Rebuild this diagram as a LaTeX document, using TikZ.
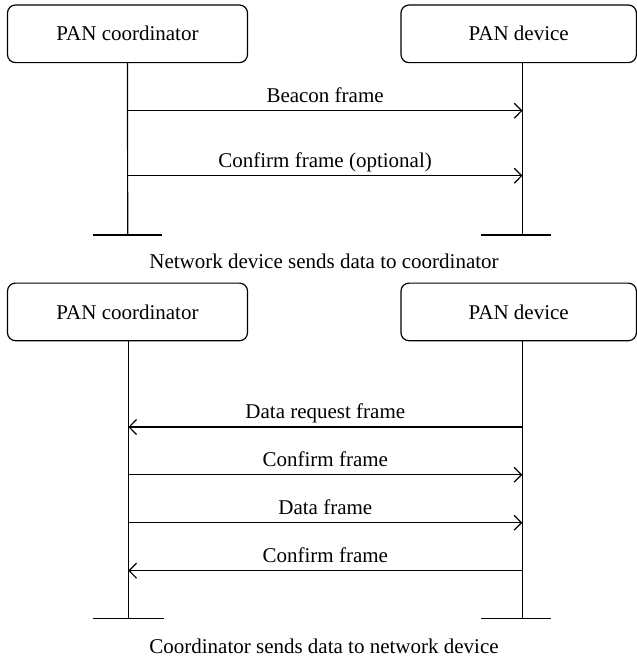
\documentclass[tikz,border=0pt]{standalone}
\usepackage{fontspec}
\setmainfont{Liberation Serif}
\usetikzlibrary{arrows.meta}
\begin{document}
\begin{tikzpicture}[x=0.5pt, y=-0.5pt, line width=0.6pt,
  every node/.style={font=\fontsize{10.5}{12}\selectfont},
  party/.style={draw, rounded corners=4pt, minimum height=28.8pt, inner sep=0pt},
  msg/.style={anchor=base, yshift=4.3pt},
  >={Straight Barb[length=3.7pt,width=7.5pt]}]
  \useasboundingbox (0,0) rectangle (637,661);

  % network device sends data to coordinator
  \node[party, minimum width=120pt] (coordA) at (127.5,33.8) {PAN coordinator};
  \node[party, minimum width=117.7pt] (devA) at (518.7,33.8) {PAN device};
  \coordinate (endcA) at (127.7,235);
  \coordinate (enddA) at (522.5,235);
  \draw (coordA.south) -- (endcA);
  \draw (devA.south -| enddA) -- (enddA);
  \draw ([xshift=-17.3pt]endcA) -- ([xshift=17.3pt]endcA);
  \draw ([xshift=-20.5pt]enddA) -- ([xshift=14.5pt]enddA);
  \coordinate (cA1) at (127.7,110.7);
  \coordinate (dA1) at (522.5,110.7);
  \coordinate (cA2) at (127.7,175.7);
  \coordinate (dA2) at (522.5,175.7);
  \draw[->] (cA1) -- node[msg] {Beacon frame} (dA1);
  \draw[->] (cA2) -- node[msg] {Confirm frame (optional)} (dA2);
  \node[anchor=base] (titleA) at (324,268) {Network device sends data to coordinator};

  % coordinator sends data to network device
  \node[party, minimum width=120pt] (coordB) at (127.5,311.9) {PAN coordinator};
  \node[party, minimum width=117.7pt] (devB) at (518.7,311.9) {PAN device};
  \coordinate (endcB) at (128.3,618.5);
  \coordinate (enddB) at (522.3,618.5);
  \draw (coordB.south -| endcB) -- (endcB);
  \draw (devB.south -| enddB) -- (enddB);
  \draw ([xshift=-17.7pt]endcB) -- ([xshift=17.7pt]endcB);
  \draw ([xshift=-20.5pt]enddB) -- ([xshift=14.2pt]enddB);
  \coordinate (cB1) at (128.3,427);
  \coordinate (dB1) at (522.3,427);
  \coordinate (cB2) at (128.3,474.7);
  \coordinate (dB2) at (522.3,474.7);
  \coordinate (cB3) at (128.3,522.7);
  \coordinate (dB3) at (522.3,522.7);
  \coordinate (cB4) at (128.3,570.7);
  \coordinate (dB4) at (522.3,570.7);
  \draw[->] (dB1) -- node[msg] {Data request frame} (cB1);
  \draw[->] (cB2) -- node[msg] {Confirm frame} (dB2);
  \draw[->] (cB3) -- node[msg] {Data frame} (dB3);
  \draw[->] (dB4) -- node[msg] {Confirm frame} (cB4);
  \node[anchor=base] (titleB) at (324,653) {Coordinator sends data to network device};
\end{tikzpicture}
\end{document}
